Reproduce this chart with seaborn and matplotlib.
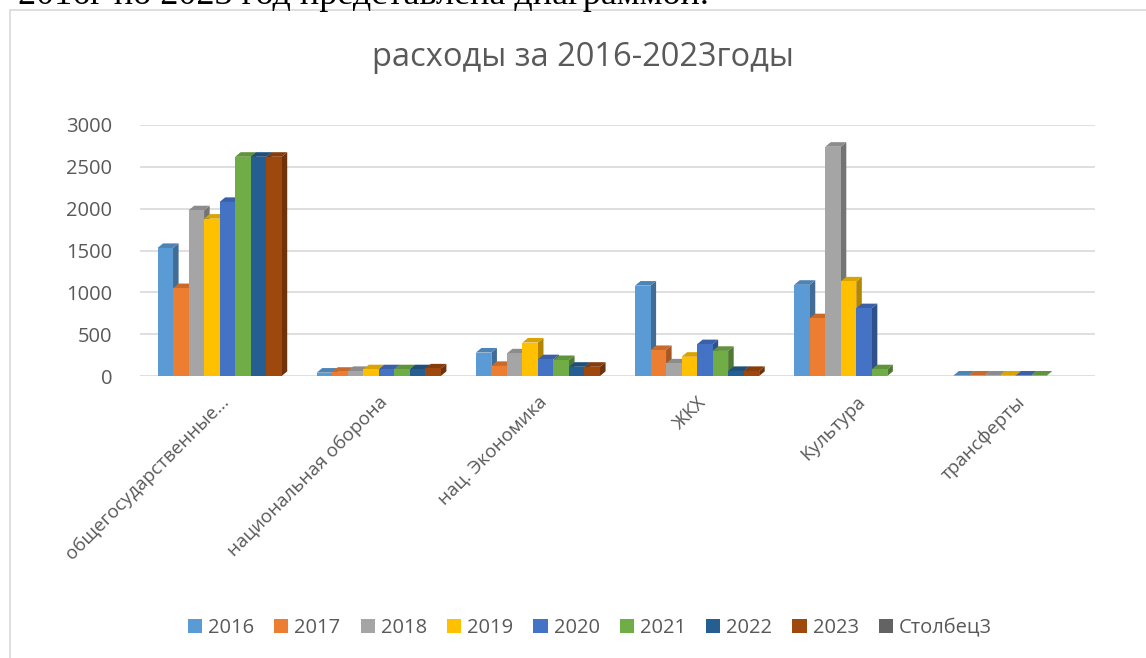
import pandas as pd
import numpy as np
import matplotlib
matplotlib.use("Agg")
import matplotlib.pyplot as plt
import seaborn as sns
from matplotlib.patches import Polygon, Patch, Rectangle
from matplotlib.colors import to_rgb

# data
categories = ["общегосударственные...", "национальная оборона", "нац. Экономика",
              "ЖКХ", "Культура", "трансферты"]
years = ["2016", "2017", "2018", "2019", "2020", "2021", "2022", "2023"]
v2016 = [1530, 40, 280, 1080, 1090, 5]
v2017 = [1050, 50, 120, 310, 690, 5]
v2018 = [1980, 60, 270, 150, 2740, 5]
v2019 = [1880, 80, 400, 230, 1130, 5]
v2020 = [2080, 80, 200, 380, 810, 5]
v2021 = [2620, 80, 190, 300, 80, 5]
v2022 = [2620, 80, 110, 60, 0, 0]
v2023 = [2620, 90, 110, 60, 0, 0]
values = [v2016, v2017, v2018, v2019, v2020, v2021, v2022, v2023]
legend_labels = years + ["Столбец3"]

colors = ["#5B9BD5", "#ED7D31", "#A5A5A5", "#FFC000", "#4472C4",
          "#70AD47", "#255E91", "#9E480E", "#636363"]

rows = []
for y, vals in zip(years, values):
    for c, v in zip(categories, vals):
        rows.append({"cat": c, "year": y, "value": v})
df = pd.DataFrame(rows)

sns.set_theme(style="white")
plt.rcParams["font.family"] = ["Open Sans", "DejaVu Sans"]
text_col = "#595959"

fig = plt.figure(figsize=(11.46, 6.58), dpi=100)
fig.patch.set_facecolor("white")

# chart frame and the page text cut off above it
fig.patches.append(Rectangle((10 / 1146, -0.01), 1.0, 1 - 10 / 658 + 0.01,
                             transform=fig.transFigure, fill=False,
                             edgecolor="#D9D9D9", lw=1.2))
fig.text(18 / 1146, 1 - 4 / 658, "2016г по 2023 год представлена диаграммой.",
         family=["Liberation Serif", "DejaVu Serif"], fontsize=26,
         va="baseline", ha="left", color="black")

ax = fig.add_axes([140 / 1146, 282 / 658, 955 / 1146, 251 / 658])
sns.barplot(data=df, x="cat", y="value", hue="year", palette=colors[:8],
            order=categories, hue_order=years, width=0.78, ax=ax,
            legend=False, saturation=1, errorbar=None)

ax.set_ylim(0, 3000)
ax.set_yticks(range(0, 3001, 500))
ax.yaxis.grid(True, color="#D9D9D9", lw=1.2)
ax.set_axisbelow(True)
for s in ax.spines.values():
    s.set_visible(False)
ax.set_xlabel("")
ax.set_ylabel("")
ax.tick_params(axis="y", length=0, pad=20, labelsize=14.5, labelcolor=text_col)
ax.tick_params(axis="x", length=0, pad=12, labelsize=13.5, labelcolor=text_col)
plt.setp(ax.get_xticklabels(), rotation=45, ha="right", rotation_mode="anchor")

# fake 3D depth faces
dx, dy = 0.035, 55
bars = sorted(ax.patches, key=lambda p: p.get_x())
for i, p in enumerate(bars):
    x0, w, h = p.get_x(), p.get_width(), p.get_height()
    if h <= 0:
        p.set_visible(False)
        continue
    base = np.array(to_rgb(p.get_facecolor()))
    z = 2 + i * 0.01
    p.set_zorder(z + 0.005)
    p.set_edgecolor("none")
    side = Polygon([(x0 + w, 0), (x0 + w + dx, dy), (x0 + w + dx, h + dy), (x0 + w, h)],
                   closed=True, facecolor=base * 0.7, edgecolor="none", zorder=z)
    top = Polygon([(x0, h), (x0 + dx, h + dy), (x0 + w + dx, h + dy), (x0 + w, h)],
                  closed=True, facecolor=base * 0.85, edgecolor="none", zorder=z)
    ax.add_patch(side)
    ax.add_patch(top)
ax.set_xlim(-0.5, len(categories) - 0.5)

fig.text(583 / 1146, 1 - 57 / 658, "расходы за 2016-2023годы", ha="center",
         va="center", fontsize=23.5, color=text_col)

handles = [Patch(facecolor=c, edgecolor="none") for c in colors]
fig.legend(handles, legend_labels, loc="center", bbox_to_anchor=(590 / 1146, 1 - 628 / 658),
           ncol=9, frameon=False, fontsize=14.5, handlelength=0.7, handleheight=0.7,
           handletextpad=0.3, columnspacing=1.0, labelcolor=text_col)

fig.savefig("out.png", dpi=100, facecolor="white")
